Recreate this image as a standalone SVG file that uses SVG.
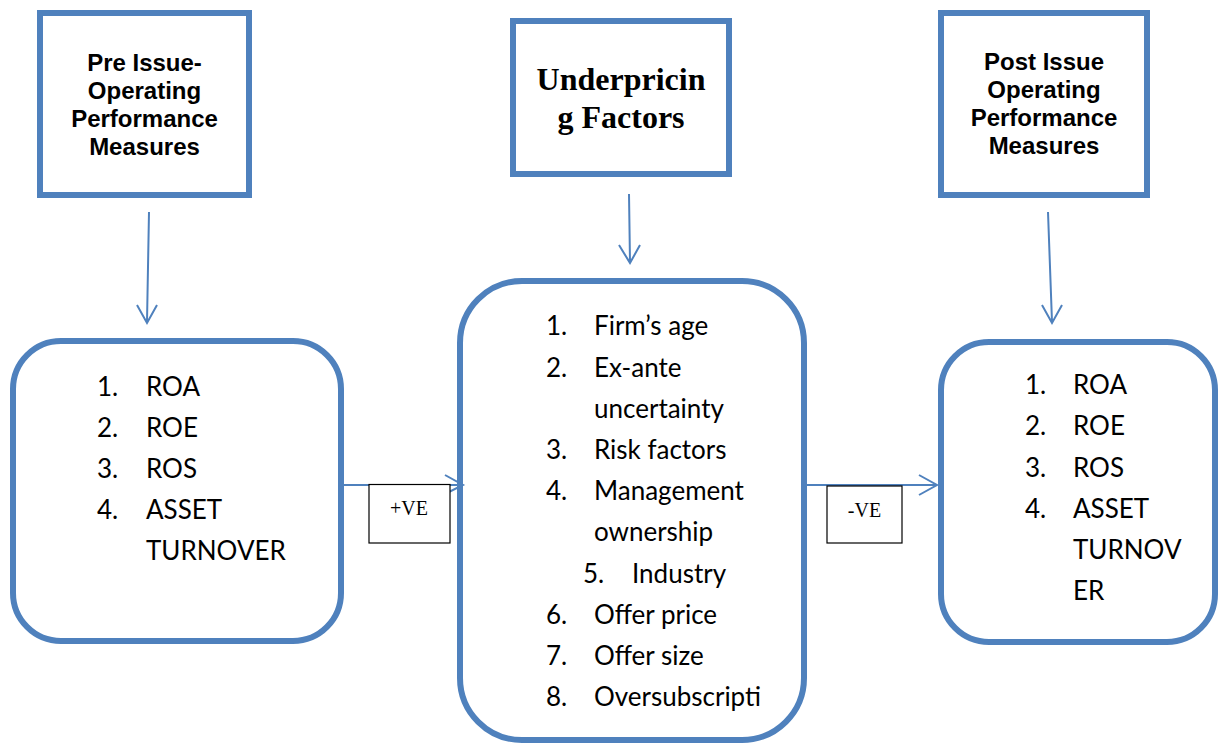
<svg xmlns="http://www.w3.org/2000/svg" width="1218" height="745" viewBox="0 0 1218 745">
<style>
.box{fill:#fff;stroke:#4F81BD;stroke-width:6}
.con{fill:none;stroke:#4F81BD;stroke-width:2}
.lbl{fill:#fff;stroke:#000;stroke-width:1.2}
.hd{font-family:"Liberation Sans",Arial,sans-serif;font-weight:bold;font-size:24px;text-anchor:middle;fill:#000}
.hdt{font-family:"Liberation Serif","Times New Roman",serif;font-weight:bold;font-size:32px;text-anchor:middle;fill:#000}
.li{font-family:Lato,"Open Sans",sans-serif;font-size:26px;fill:#000}
.ve{font-family:"Liberation Serif","Times New Roman",serif;font-size:20px;text-anchor:middle;fill:#000}
</style>
<rect width="1218" height="745" fill="#fff"/>
<g id="pre-header">
<rect class="box" x="40" y="13" width="209" height="182"/>
<text class="hd" x="144.5" y="71">Pre Issue-</text>
<text class="hd" x="144.5" y="99">Operating</text>
<text class="hd" x="144.5" y="127">Performance</text>
<text class="hd" x="144.5" y="155">Measures</text>
</g>
<g id="underpricing-header">
<rect class="box" x="513" y="21" width="216" height="153"/>
<text class="hdt" x="621" y="90">Underpricin</text>
<text class="hdt" x="621" y="128">g Factors</text>
</g>
<g id="post-header">
<rect class="box" x="941" y="13" width="206" height="182"/>
<text class="hd" x="1044" y="70">Post Issue</text>
<text class="hd" x="1044" y="98">Operating</text>
<text class="hd" x="1044" y="126">Performance</text>
<text class="hd" x="1044" y="154">Measures</text>
</g>
<g id="pre-list">
<rect class="box" x="13" y="341" width="328" height="300" rx="48" ry="48"/>
<text class="li" x="97" y="396">1.</text><text class="li" x="146" y="396">ROA</text>
<text class="li" x="97" y="437">2.</text><text class="li" x="146" y="437">ROE</text>
<text class="li" x="97" y="478">3.</text><text class="li" x="146" y="478">ROS</text>
<text class="li" x="97" y="519">4.</text><text class="li" x="146" y="519">ASSET</text>
<text class="li" x="146" y="560">TURNOVER</text>
</g>
<g id="factors-list">
<rect class="box" x="460" y="281" width="344" height="459" rx="62" ry="62"/>
<text class="li" x="546" y="335">1.</text><text class="li" x="594" y="335">Firm’s age</text>
<text class="li" x="546" y="377">2.</text><text class="li" x="594" y="377">Ex-ante</text>
<text class="li" x="594" y="418">uncertainty</text>
<text class="li" x="546" y="459">3.</text><text class="li" x="594" y="459">Risk factors</text>
<text class="li" x="546" y="500">4.</text><text class="li" x="594" y="500">Management</text>
<text class="li" x="594" y="541">ownership</text>
<text class="li" x="583" y="583">5.</text><text class="li" x="632" y="583">Industry</text>
<text class="li" x="546" y="624">6.</text><text class="li" x="594" y="624">Offer price</text>
<text class="li" x="546" y="665">7.</text><text class="li" x="594" y="665">Offer size</text>
<text class="li" x="546" y="706">8.</text><text class="li" x="594" y="706">Oversubscripti</text>
</g>
<g id="post-list">
<rect class="box" x="941" y="342" width="274" height="300" rx="48" ry="48"/>
<text class="li" x="1025" y="394">1.</text><text class="li" x="1073" y="394">ROA</text>
<text class="li" x="1025" y="435">2.</text><text class="li" x="1073" y="435">ROE</text>
<text class="li" x="1025" y="477">3.</text><text class="li" x="1073" y="477">ROS</text>
<text class="li" x="1025" y="518">4.</text><text class="li" x="1073" y="518">ASSET</text>
<text class="li" x="1073" y="559">TURNOV</text>
<text class="li" x="1073" y="600">ER</text>
</g>
<g id="connectors">
<path class="con" d="M149,212 L147,322 M137,305 L147,323 L157,305"/>
<path class="con" d="M629,194 L630,262 M619,245 L630,263 L640,245"/>
<path class="con" d="M1048,212 L1052,322 M1042,305 L1052,323 L1062,305"/>
<path class="con" d="M344,485 L462,485 M445,475 L463,485 L445,494"/>
<path class="con" d="M807,485 L936,485 M919,475 L937,485 L919,495"/>
</g>
<g id="label-positive">
<rect class="lbl" x="369" y="484.5" width="81" height="58.5"/>
<text class="ve" x="409" y="515">+VE</text>
</g>
<g id="label-negative">
<rect class="lbl" x="827" y="486" width="75" height="57"/>
<text class="ve" x="864.5" y="517">-VE</text>
</g>
</svg>
